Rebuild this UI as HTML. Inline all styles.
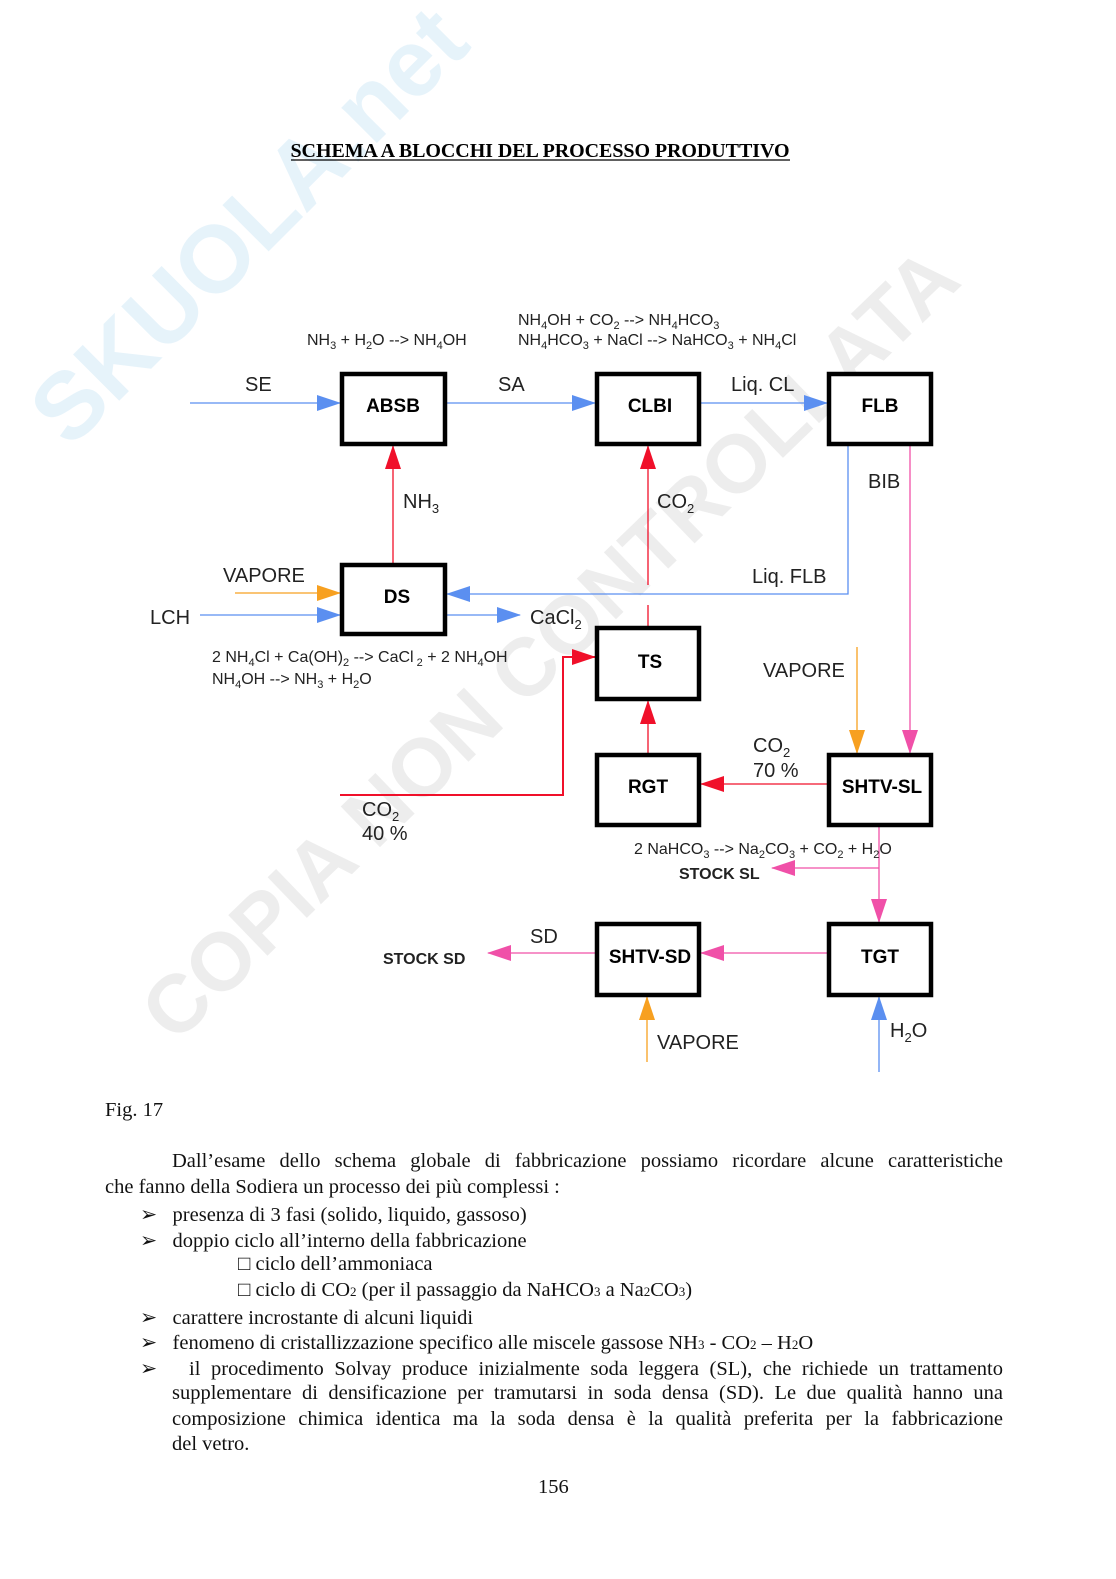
<!DOCTYPE html>
<html><head><meta charset="utf-8"><style>
body{margin:0;background:#fff;}
.p{position:relative;width:1116px;height:1579px;overflow:hidden;background:#fff;}
svg{position:absolute;left:0;top:0;}
.t{position:absolute;font-family:"Liberation Serif",serif;font-size:20.5px;color:#111;white-space:nowrap;}
.j{width:831px;text-align:justify;text-align-last:justify;}
.j2{width:831px;left:172px;text-align:justify;text-align-last:justify;}
</style></head><body><div class="p">
<svg width="1116" height="1579" viewBox="0 0 1116 1579" font-family="Liberation Sans, sans-serif">
<defs>
<marker id="b" markerWidth="24" markerHeight="16" refX="23" refY="8" orient="auto" markerUnits="userSpaceOnUse"><path d="M0,0L24,8L0,16z" fill="#5b8ff0"/></marker>
<marker id="r" markerWidth="24" markerHeight="16" refX="23" refY="8" orient="auto" markerUnits="userSpaceOnUse"><path d="M0,0L24,8L0,16z" fill="#f0102a"/></marker>
<marker id="o" markerWidth="24" markerHeight="16" refX="23" refY="8" orient="auto" markerUnits="userSpaceOnUse"><path d="M0,0L24,8L0,16z" fill="#f7a020"/></marker>
<marker id="k" markerWidth="24" markerHeight="16" refX="23" refY="8" orient="auto" markerUnits="userSpaceOnUse"><path d="M0,0L24,8L0,16z" fill="#f050a8"/></marker>
</defs>
<g opacity="0.13" fill="#4aa8e0" font-weight="bold">
<text x="0" y="0" font-size="95" transform="translate(70,450) rotate(-45)">SKUOLA.net</text>
</g>
<g opacity="0.2" fill="#aaa" font-weight="bold">
<text x="0" y="0" font-size="82" transform="translate(175,1045) rotate(-44)">COPIA NON CONTROLLATA</text>
</g>
<text x="540" y="157" font-family="Liberation Serif, serif" font-size="20" font-weight="bold" text-anchor="middle" textLength="499">SCHEMA A BLOCCHI DEL PROCESSO PRODUTTIVO</text>
<line x1="291" y1="160" x2="790" y2="160" stroke="#000" stroke-width="1.3"/>
<g fill="none" stroke-width="1.3">
<line x1="190" y1="403" x2="340" y2="403" stroke="#5b8ff0" marker-end="url(#b)"/>
<line x1="447" y1="403" x2="595" y2="403" stroke="#5b8ff0" marker-end="url(#b)"/>
<line x1="701" y1="403" x2="827" y2="403" stroke="#5b8ff0" marker-end="url(#b)"/>
<line x1="393" y1="563" x2="393" y2="446" stroke="#f0102a" marker-end="url(#r)"/>
<line x1="648" y1="585" x2="648" y2="446" stroke="#f0102a" marker-end="url(#r)"/>
<line x1="648" y1="626" x2="648" y2="605" stroke="#f0102a"/>
<polyline points="848,446 848,594 447,594" stroke="#5b8ff0" marker-end="url(#b)"/>
<line x1="910" y1="446" x2="910" y2="753" stroke="#f050a8" marker-end="url(#k)"/>
<line x1="235" y1="593" x2="340" y2="593" stroke="#f7a020" marker-end="url(#o)"/>
<line x1="200" y1="615" x2="340" y2="615" stroke="#5b8ff0" marker-end="url(#b)"/>
<line x1="447" y1="615" x2="520" y2="615" stroke="#5b8ff0" marker-end="url(#b)"/>
<polyline points="340,795 563,795 563,657 595,657" stroke="#f0102a" stroke-width="2" marker-end="url(#r)"/>
<line x1="648" y1="753" x2="648" y2="701" stroke="#f0102a" marker-end="url(#r)"/>
<line x1="827" y1="784" x2="701" y2="784" stroke="#f0102a" marker-end="url(#r)"/>
<line x1="857" y1="647" x2="857" y2="753" stroke="#f7a020" marker-end="url(#o)"/>
<line x1="879" y1="827" x2="879" y2="922" stroke="#f050a8" marker-end="url(#k)"/>
<line x1="879" y1="868" x2="772" y2="868" stroke="#f050a8" marker-end="url(#k)"/>
<line x1="827" y1="953" x2="701" y2="953" stroke="#f050a8" marker-end="url(#k)"/>
<line x1="595" y1="953" x2="488" y2="953" stroke="#f050a8" marker-end="url(#k)"/>
<line x1="647" y1="1062" x2="647" y2="997" stroke="#f7a020" marker-end="url(#o)"/>
<line x1="879" y1="1072" x2="879" y2="997" stroke="#5b8ff0" marker-end="url(#b)"/>
</g>
<g fill="#fff" stroke="#000" stroke-width="4.5">
<rect x="342" y="374" width="103" height="70"/>
<rect x="597" y="374" width="102" height="70"/>
<rect x="829" y="374" width="102" height="70"/>
<rect x="342" y="565" width="103" height="69"/>
<rect x="597" y="628" width="102" height="71"/>
<rect x="597" y="755" width="102" height="70"/>
<rect x="829" y="755" width="102" height="70"/>
<rect x="597" y="924" width="102" height="71"/>
<rect x="829" y="924" width="102" height="71"/>
</g>
<g font-weight="bold" font-size="19" text-anchor="middle" fill="#000">
<text x="393" y="412">ABSB</text><text x="650" y="412">CLBI</text><text x="880" y="412">FLB</text>
<text x="397" y="603">DS</text><text x="650" y="668">TS</text><text x="648" y="793">RGT</text>
<text x="882" y="793">SHTV-SL</text><text x="650" y="963">SHTV-SD</text><text x="880" y="963">TGT</text>
</g>
<g font-size="20" fill="#222">
<text x="245" y="391">SE</text><text x="498" y="391">SA</text><text x="731" y="391">Liq. CL</text>
<text x="403" y="508">NH<tspan font-size="13" dy="5">3</tspan></text>
<text x="657" y="508">CO<tspan font-size="13" dy="5">2</tspan></text>
<text x="868" y="488">BIB</text>
<text x="752" y="583">Liq. FLB</text>
<text x="223" y="582">VAPORE</text>
<text x="150" y="624">LCH</text>
<text x="530" y="624">CaCl<tspan font-size="13" dy="5">2</tspan></text>
<text x="763" y="677">VAPORE</text>
<text x="753" y="752">CO<tspan font-size="13" dy="5">2</tspan></text>
<text x="753" y="777">70 %</text>
<text x="362" y="816">CO<tspan font-size="13" dy="5">2</tspan></text>
<text x="362" y="840">40 %</text>
<text x="530" y="943">SD</text>
<text x="657" y="1049">VAPORE</text>
<text x="890" y="1037">H<tspan font-size="13" dy="5">2</tspan><tspan dy="-5">O</tspan></text>
</g>
<g font-size="16" fill="#222">
<text x="307" y="345">NH<tspan font-size="11" dy="4">3</tspan><tspan dy="-4"> + H</tspan><tspan font-size="11" dy="4">2</tspan><tspan dy="-4">O  --&gt; NH</tspan><tspan font-size="11" dy="4">4</tspan><tspan dy="-4">OH</tspan></text>
<text x="518" y="325">NH<tspan font-size="11" dy="4">4</tspan><tspan dy="-4">OH + CO</tspan><tspan font-size="11" dy="4">2</tspan><tspan dy="-4">  --&gt; NH</tspan><tspan font-size="11" dy="4">4</tspan><tspan dy="-4">HCO</tspan><tspan font-size="11" dy="4">3</tspan></text>
<text x="518" y="345">NH<tspan font-size="11" dy="4">4</tspan><tspan dy="-4">HCO</tspan><tspan font-size="11" dy="4">3</tspan><tspan dy="-4"> + NaCl  --&gt; NaHCO</tspan><tspan font-size="11" dy="4">3</tspan><tspan dy="-4"> + NH</tspan><tspan font-size="11" dy="4">4</tspan><tspan dy="-4">Cl</tspan></text>
<text x="212" y="662">2 NH<tspan font-size="11" dy="4">4</tspan><tspan dy="-4">Cl + Ca(OH)</tspan><tspan font-size="11" dy="4">2</tspan><tspan dy="-4">  --&gt; CaCl</tspan><tspan font-size="11" dy="4"> 2</tspan><tspan dy="-4"> + 2 NH</tspan><tspan font-size="11" dy="4">4</tspan><tspan dy="-4">OH</tspan></text>
<text x="212" y="684">NH<tspan font-size="11" dy="4">4</tspan><tspan dy="-4">OH  --&gt; NH</tspan><tspan font-size="11" dy="4">3</tspan><tspan dy="-4"> + H</tspan><tspan font-size="11" dy="4">2</tspan><tspan dy="-4">O</tspan></text>
<text x="634" y="854">2 NaHCO<tspan font-size="11" dy="4">3</tspan><tspan dy="-4"> --&gt; Na</tspan><tspan font-size="11" dy="4">2</tspan><tspan dy="-4">CO</tspan><tspan font-size="11" dy="4">3</tspan><tspan dy="-4"> + CO</tspan><tspan font-size="11" dy="4">2</tspan><tspan dy="-4">  + H</tspan><tspan font-size="11" dy="4">2</tspan><tspan dy="-4">O</tspan></text>
</g>
<g font-size="16" font-weight="bold" fill="#222">
<text x="679" y="879">STOCK SL</text>
<text x="383" y="964">STOCK SD</text>
</g>
</svg>
<div class="t" style="left:105px;top:1099px;">Fig. 17</div>
<div class="t j2" style="top:1150px;">Dall’esame dello schema globale di fabbricazione possiamo ricordare alcune caratteristiche</div>
<div class="t" style="left:105px;top:1176px;">che fanno della Sodiera un processo dei più complessi :</div>
<div class="t" style="left:140px;top:1202px;">➢ &nbsp; presenza di 3 fasi (solido, liquido, gassoso)</div>
<div class="t" style="left:140px;top:1228px;">➢ &nbsp; doppio ciclo all’interno della fabbricazione</div>
<div class="t" style="left:238px;top:1253px;">□ ciclo dell’ammoniaca</div>
<div class="t" style="left:238px;top:1279px;">□ ciclo di CO<span style="font-size:13px">2</span> (per il passaggio da NaHCO<span style="font-size:13px">3</span> a Na<span style="font-size:13px">2</span>CO<span style="font-size:13px">3</span>)</div>
<div class="t" style="left:140px;top:1305px;">➢ &nbsp; carattere incrostante di alcuni liquidi</div>
<div class="t" style="left:140px;top:1330px;">➢ &nbsp; fenomeno di cristallizzazione specifico alle miscele gassose NH<span style="font-size:13px">3</span> - CO<span style="font-size:13px">2</span> – H<span style="font-size:13px">2</span>O</div>
<div class="t" style="left:140px;top:1356px;width:863px;text-align:justify;text-align-last:justify;">➢ &nbsp; il procedimento Solvay produce inizialmente soda leggera (SL), che richiede un trattamento</div>
<div class="t j2" style="top:1382px;">supplementare di densificazione per tramutarsi in soda densa (SD). Le due qualità hanno una</div>
<div class="t j2" style="top:1408px;">composizione chimica identica ma la soda densa è la qualità preferita per la fabbricazione</div>
<div class="t" style="left:172px;top:1433px;">del vetro.</div>
<div class="t" style="left:538px;top:1476px;">156</div>
</div></body></html>
